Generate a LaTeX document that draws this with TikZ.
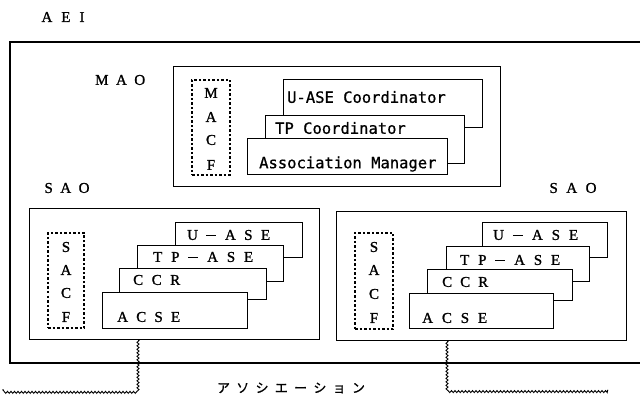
\documentclass[tikz,border=0pt]{standalone}
\usepackage{fontspec}
\setmainfont{Liberation Serif}
\newfontfamily\serf[FakeBold=1.2]{Liberation Serif}
\newfontfamily\monof[FakeBold=0.8]{DejaVu Sans Mono}
\newfontfamily\jpf[FakeBold=1]{Noto Sans CJK JP}
\usetikzlibrary{decorations.pathmorphing}
\newcommand\spread[2]{\makebox[#1][s]{#2}}
\newcommand\longdash{\rule[3.8pt]{10pt}{1.3pt}}
\tikzset{
  box/.style={draw, fill=white, line width=1pt, inner sep=0pt, rectangle},
  dbox/.style={draw, dash pattern=on 2.5pt off 2pt, line width=1.3pt, inner sep=0pt, rectangle},
  sz/.style 2 args={minimum width=#1, minimum height=#2},
  lbl/.style={inner sep=0pt, font=\serf\fontsize{15}{15}\selectfont},
  lblw/.style={lbl, anchor=west},
  mono/.style={inner sep=0pt, anchor=west, font=\monof\fontsize{15.5}{15.5}\selectfont},
  jp/.style={inner sep=0pt, font=\jpf\fontsize{13}{13}\selectfont},
  wavy/.style={decorate, decoration={snake, segment length=3.5pt, amplitude=1pt}, line width=0.9pt}
}
\begin{document}
\begin{tikzpicture}[x=1pt,y=-1pt]
\useasboundingbox (0,0) rectangle (640,398);
\clip (0,0) rectangle (640,398);

% AEI
\node[lbl] (aeilbl) at (63,17) {\spread{43pt}{A\hfill E\hfill I}};
\node[box, line width=1.3pt, sz={640pt}{321pt}] (aei) at (330,202.5) {};

% MAO
\node[lblw] (maolbl) at (95,80) {\spread{50pt}{M\hfill A\hfill O}};
\node[box, sz={327pt}{120pt}] (mao) at (336.5,127) {};
\node[dbox, sz={38pt}{95pt}] (macf) at (211,127.5) {};
\node[lbl] (macf1) at (211,93) {M};
\node[lbl] (macf2) at (211,117) {A};
\node[lbl] (macf3) at (211,140) {C};
\node[lbl] (macf4) at (211,165) {F};
\node[box, sz={199pt}{48pt}] (uc) at (382.5,104) {};
\node[mono] (uct) at (287,97) {U-ASE Coordinator};
\node[box, sz={199pt}{48pt}] (tc) at (364.5,140) {};
\node[mono] (tct) at (275,128) {TP Coordinator};
\node[box, sz={200pt}{36pt}] (am) at (347,157) {};
\node[mono] (amt) at (259,164) {Association Manager};

% SAO labels
\node[lbl] (saol) at (67,188) {\spread{45pt}{S\hfill A\hfill O}};
\node[lbl] (saor) at (573,188) {\spread{47pt}{S\hfill A\hfill O}};

% left SAO
\node[box, sz={290pt}{130pt}] (lsao) at (174,274) {};
\node[dbox, sz={36pt}{95pt}] (lsacf) at (66,280.5) {};
\node[lbl] (ls1) at (66,247) {S};
\node[lbl] (ls2) at (66,270) {A};
\node[lbl] (ls3) at (66,293) {C};
\node[lbl] (ls4) at (66,317) {F};
\node[box, sz={127pt}{35pt}] (lu) at (238.5,240.5) {};
\node[lblw] (lut) at (187,235) {\spread{83pt}{U\hfill \longdash\hfill A\hfill S\hfill E}};
\node[box, sz={146pt}{35pt}] (ltp) at (210,263.5) {};
\node[lblw] (ltpt) at (153,257) {\spread{100pt}{T\hfill P\hfill \longdash\hfill A\hfill S\hfill E}};
\node[box, sz={147pt}{31pt}] (lccr) at (192.5,283.5) {};
\node[lblw] (lccrt) at (133,280) {\spread{47pt}{C\hfill C\hfill R}};
\node[box, sz={145pt}{36pt}] (lacse) at (174.5,310) {};
\node[lblw] (lacset) at (117,317) {\spread{63pt}{A\hfill C\hfill S\hfill E}};

% right SAO
\node[box, sz={290pt}{128pt}] (rsao) at (481,276) {};
\node[dbox, sz={38pt}{96pt}] (rsacf) at (374,281) {};
\node[lbl] (rs1) at (374,247) {S};
\node[lbl] (rs2) at (374,270) {A};
\node[lbl] (rs3) at (374,294) {C};
\node[lbl] (rs4) at (374,318) {F};
\node[box, sz={125pt}{35pt}] (ru) at (544.5,240.5) {};
\node[lblw] (rut) at (493,235) {\spread{85pt}{U\hfill \longdash\hfill A\hfill S\hfill E}};
\node[box, sz={143pt}{34pt}] (rtp) at (517.5,264) {};
\node[lblw] (rtpt) at (460,260) {\spread{100pt}{T\hfill P\hfill \longdash\hfill A\hfill S\hfill E}};
\node[box, sz={145pt}{31pt}] (rccr) at (499.5,284.5) {};
\node[lblw] (rccrt) at (442,282) {\spread{46pt}{C\hfill C\hfill R}};
\node[box, sz={144pt}{35pt}] (racse) at (481,310.5) {};
\node[lblw] (racset) at (422,318) {\spread{65pt}{A\hfill C\hfill S\hfill E}};

% association
\coordinate (lwc) at (138,390);
\coordinate (lwe) at (2,390);
\coordinate (rwc) at (447,390);
\coordinate (rwe) at (608,390);
\draw[wavy] (lsao.south -| lwc) -- (lwc) -- (lwe);
\draw[wavy] (rsao.south -| rwc) -- (rwc) -- (rwe);
\node[jp] (assoc) at (291,388) {\spread{148pt}{ア\hfill ソ\hfill シ\hfill エ\hfill ー\hfill シ\hfill ョ\hfill ン}};
\end{tikzpicture}
\end{document}
